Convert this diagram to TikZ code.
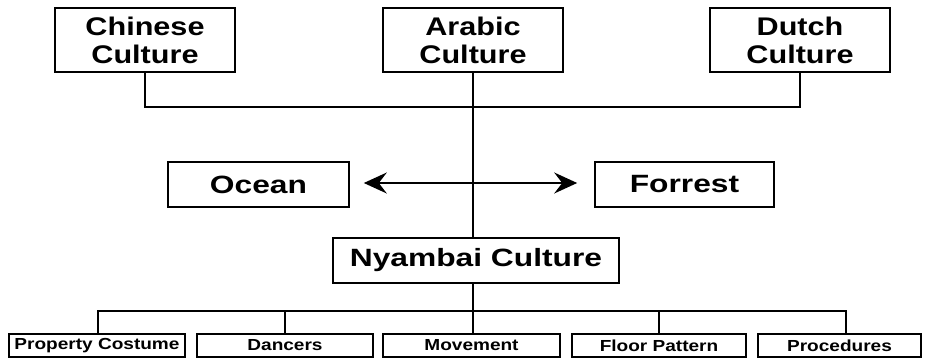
\documentclass[tikz,border=0pt]{standalone}
\usepackage{fontspec}
\usetikzlibrary{arrows.meta}
\newfontfamily\topfont[FakeStretch=1.2]{Liberation Sans}
\newfontfamily\midfont[FakeStretch=1.27]{Liberation Sans}
\newfontfamily\botfont[FakeStretch=1.19]{Liberation Sans}
\begin{document}
\begin{tikzpicture}[x=1pt,y=-1pt,
  box/.style={draw=black, line width=1.6pt, fill=white, inner sep=0pt, align=center, text=black},
  topbox/.style={box, minimum width=180pt, minimum height=64pt,
    font=\topfont\bfseries\fontsize{25.5}{28}\selectfont},
  midbox/.style={box, minimum height=45pt,
    font=\midfont\bfseries\fontsize{25}{28}\selectfont},
  botbox/.style={box, minimum height=23pt,
    font=\botfont\bfseries\fontsize{16}{18}\selectfont},
  link/.style={draw=black, line width=1.8pt},
  tip/.style={Stealth[length=23pt,width=21pt,inset=8pt]},
  arr/.style={link, {Stealth[length=23pt,width=21pt,inset=8pt]}-{Stealth[length=23pt,width=21pt,inset=8pt]}}
]
\useasboundingbox[fill=white] (0,0) rectangle (925,358);

% top row
\node[topbox] (chinese) at (145,40) {Chinese\\Culture};
\node[topbox] (arabic)  at (473,40) {Arabic\\Culture};
\node[topbox] (dutch)   at (800,40) {Dutch\\Culture};

% middle row
\node[midbox, minimum width=181pt] (ocean)   at (258.5,184.5) {Ocean};
\node[midbox, minimum width=179pt] (forrest) at (684.5,184.5) {Forrest};
\node[midbox, minimum width=286pt] (nyambai) at (476,260.5) {Nyambai Culture};

% bottom row
\node[botbox, minimum width=176pt] (prop)  at (97,345.5)  {Property Costume};
\node[botbox, minimum width=176pt] (danc)  at (285,345.5) {Dancers};
\node[botbox, minimum width=177pt] (move)  at (471.5,345.5) {Movement};
\node[botbox, minimum width=174pt] (floor) at (659,345.5) {Floor Pattern};
\node[botbox, minimum width=163pt] (proc)  at (839.5,345.5) {Procedures};

% junctions
\coordinate (jtop) at (473,107);
\coordinate (jbot) at (473,311);
\coordinate (jproc) at (846,311);

% top connectors
\draw[link] (chinese.south) |- (jtop) -| (dutch.south);
\draw[link] (arabic.south) -- (arabic.south |- nyambai.north);

% arrow
\draw[arr] ([xshift=14pt,yshift=1.5pt]ocean.east) -- ([xshift=-17pt,yshift=1.5pt]forrest.west);

% bottom connectors
\draw[link] (jbot |- nyambai.south) -- (jbot);
\draw[link] (prop.north -| 98,0) |- (jproc) -- (jproc |- proc.north);
\draw[link] (danc.north) -- (danc.north |- jbot);
\draw[link] (move.north -| jbot) -- (jbot);
\draw[link] (floor.north) -- (floor.north |- jbot);
\end{tikzpicture}
\end{document}
